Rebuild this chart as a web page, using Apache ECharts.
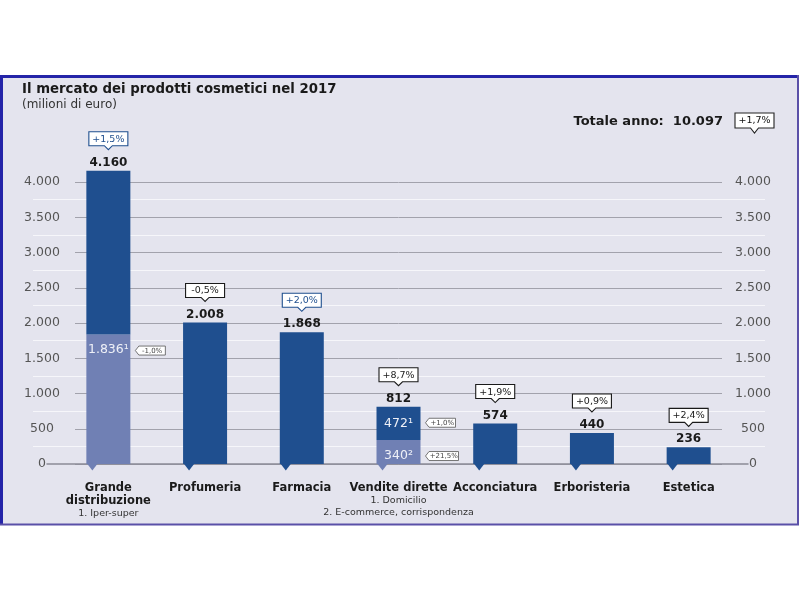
<!DOCTYPE html>
<html><head><meta charset="utf-8">
<script src="https://cdn.jsdelivr.net/npm/echarts@6/dist/echarts.min.js"></script>
<style>html,body{margin:0;padding:0;background:#fff}#c{width:800px;height:600px}</style>
</head><body><div id="c"></div>
<script>
// ---- data ----
const categories = ['Grande\ndistribuzione','Profumeria','Farmacia','Vendite dirette','Acconciatura','Erboristeria','Estetica'];
const notes = ['1. Iper-super','','','1. Domicilio\n2. E-commerce, corrispondenza','','',''];
const totals = [4160, 2008, 1868, 812, 574, 440, 236];
const lowerPart = [1836, 0, 0, 340, 0, 0, 0];
const upperPart = [2324, 2008, 1868, 472, 574, 440, 236];
const changes = ['+1,5%','-0,5%','+2,0%','+8,7%','+1,9%','+0,9%','+2,4%'];
const changeBlue = [true, false, true, false, false, false, false];
const lowerLabels = ['1.836\u00b9','','','340\u00b2','','',''];
const upperLabels = ['','','','472\u00b9','','',''];
const lowerChanges = ['-1,0%','','','+21,5%','','',''];
const upperChanges = ['','','','+1,0%','','',''];
const totalYear = '10.097';
const totalChange = '+1,7%';
const yMin = 0, yMax = 4000, yStep = 500;

const DARK = '#1f4f8f', LIGHT = '#7080b4', FONT = 'DejaVu Sans';
const fmt = n => String(n).replace(/\B(?=(\d{3})+(?!\d))/g, '.');

const sideItems = [];
categories.forEach((c, i) => {
  if (lowerChanges[i]) sideItems.push({i, top: lowerPart[i], text: lowerChanges[i]});
  if (upperChanges[i]) sideItems.push({i, top: totals[i], text: upperChanges[i]});
});

const chart = echarts.init(document.getElementById('c'));
const G = {top: 182, bottom: 136};

chart.setOption({
  backgroundColor: '#ffffff',
  animation: false,
  textStyle: {fontFamily: FONT},
  grid: [
    {left: 60, right: 63, top: G.top, bottom: G.bottom},
    {left: 75, right: 78, top: G.top, bottom: G.bottom},
    {left: 33, right: 35, top: G.top, bottom: G.bottom},
    {left: 47, right: 52, top: G.top, bottom: G.bottom}
  ],
  xAxis: [
    {gridIndex: 0, type: 'category', data: categories,
     axisLine: {show: false}, axisTick: {show: false},
     axisLabel: {margin: 18, interval: 0, color: '#1a1a1a',
       formatter: (v, i) => {
         let s = v.split('\n').map(t => '{b|' + t + '}').join('\n');
         if (notes[i]) s += '\n' + notes[i].split('\n').map(t => '{s|' + t + '}').join('\n');
         return s;
       },
       rich: {
         b: {fontFamily: FONT, fontWeight: 'bold', fontSize: 11.5, lineHeight: 13, color: '#1a1a1a'},
         s: {fontFamily: FONT, fontSize: 9.5, lineHeight: 12, color: '#333'}
       }}},
    {gridIndex: 1, type: 'value', show: false},
    {gridIndex: 2, type: 'value', show: false},
    {gridIndex: 3, type: 'value', axisLine: {show: true, lineStyle: {color: '#8a8a96', width: 1.5}},
     axisTick: {show: false}, axisLabel: {show: false}, splitLine: {show: false}}
  ],
  yAxis: [
    {gridIndex: 0, type: 'value', min: yMin, max: yMax, interval: yStep, show: false},
    {gridIndex: 1, type: 'value', min: yMin, max: yMax, interval: yStep,
     axisLine: {show: false}, axisTick: {show: false},
     axisLabel: {margin: 33, align: 'center', color: '#555', fontSize: 12.5, fontFamily: FONT, formatter: v => fmt(v)},
     splitLine: {lineStyle: {color: '#a2a2ac', width: 1}}},
    {gridIndex: 1, type: 'value', position: 'right', min: yMin, max: yMax, interval: yStep,
     axisLine: {show: false}, axisTick: {show: false},
     axisLabel: {margin: 31, align: 'center', color: '#555', fontSize: 12.5, fontFamily: FONT, formatter: v => fmt(v)},
     splitLine: {show: false}},
    {gridIndex: 2, type: 'value', min: yMin, max: yMax, interval: yStep,
     axisLine: {show: false}, axisTick: {show: false}, axisLabel: {show: false},
     splitLine: {show: false},
     minorTick: {show: false, splitNumber: 2},
     minorSplitLine: {show: true, lineStyle: {color: '#f6f6fa', width: 1}}},
    {gridIndex: 3, type: 'value', min: yMin, max: yMax, show: false}
  ],
  graphic: [
    {type: 'rect', z: -100, shape: {x: 0, y: 75, width: 799, height: 450}, style: {fill: '#e4e4ee'}},
    {type: 'line', z: -99, shape: {x1: 0, y1: 76.5, x2: 799, y2: 76.5}, style: {stroke: '#2424a8', lineWidth: 3}},
    {type: 'line', z: -99, shape: {x1: 1.5, y1: 75, x2: 1.5, y2: 525}, style: {stroke: '#2424a8', lineWidth: 3}},
    {type: 'line', z: -99, shape: {x1: 798, y1: 75, x2: 798, y2: 525}, style: {stroke: '#5a50a8', lineWidth: 2}},
    {type: 'line', z: -99, shape: {x1: 0, y1: 524.5, x2: 799, y2: 524.5}, style: {stroke: '#5a50a8', lineWidth: 2}},
    {type: 'text', left: 22, top: 83, style: {text: 'Il mercato dei prodotti cosmetici nel 2017', font: 'bold 13.3px ' + FONT, fill: '#1a1a1a'}},
    {type: 'text', left: 22, top: 99, style: {text: '(milioni di euro)', font: '12px ' + FONT, fill: '#333'}},
    {type: 'text', right: 77, top: 115, style: {text: 'Totale anno:  ' + totalYear, font: 'bold 13px ' + FONT, fill: '#1a1a1a'}},
    {type: 'polygon', shape: {points: [[735,113],[774,113],[774,128],[758.5,128],[754.5,133],[750.5,128],[735,128]]},
     style: {fill: '#ffffff', stroke: '#222', lineWidth: 1.1}},
    {type: 'text', x: 754.5, y: 120.5, style: {text: totalChange, font: '9.5px ' + FONT, fill: '#111', align: 'center', verticalAlign: 'middle'}}
  ],
  series: [
    {type: 'bar', name: 'lower', stack: 's', xAxisIndex: 0, yAxisIndex: 0, barWidth: 44, clip: false,
     itemStyle: {color: LIGHT},
     data: lowerPart.map((v, i) => ({value: v,
       label: {show: !!lowerLabels[i], position: 'insideTop', distance: 9,
         formatter: lowerLabels[i] || '', color: '#eef0f7', fontSize: 12.5, fontFamily: FONT}}))},
    {type: 'bar', name: 'upper', stack: 's', xAxisIndex: 0, yAxisIndex: 0, barWidth: 44, clip: false,
     itemStyle: {color: DARK},
     data: upperPart.map((v, i) => ({value: v,
       label: {show: !!upperLabels[i], position: 'insideTop', distance: 10,
         formatter: upperLabels[i] || '', color: '#eef0f7', fontSize: 12.5, fontFamily: FONT}}))},
    {type: 'custom', name: 'badges', xAxisIndex: 0, yAxisIndex: 0, z: 5,
     data: totals.map((v, i) => [i, v]),
     renderItem: (params, api) => {
       const i = params.dataIndex;
       const p = api.coord([api.value(0), api.value(1)]);
       const x = p[0], y = p[1];
       const col = changeBlue[i] ? DARK : '#1a1a1a';
       const w = 39, tip = y - 21, bb = tip - 4, bt = bb - 14;
       const b = api.coord([i, 0]); const l = b[0] - 22;
       return {type: 'group', children: [
         {type: 'polygon', shape: {points: [[x - w/2, bt], [x + w/2, bt], [x + w/2, bb], [x + 4, bb], [x, tip], [x - 4, bb], [x - w/2, bb]]},
          style: {fill: '#ffffff', stroke: col, lineWidth: 1.1}},
         {type: 'text', x: x, y: (bt + bb) / 2 + 0.5, style: {text: changes[i], font: '9.5px ' + FONT, fill: col, align: 'center', verticalAlign: 'middle'}},
         {type: 'text', x: x, y: y - 8, style: {text: fmt(totals[i]), font: 'bold 12px ' + FONT, fill: '#1a1a1a', align: 'center', verticalAlign: 'middle'}},
         {type: 'polygon', shape: {points: [[l + 1, b[1]], [l + 11, b[1]], [l + 6, b[1] + 6.5]]},
          style: {fill: lowerPart[i] > 0 ? LIGHT : DARK}}
       ]};
     }},
    {type: 'custom', name: 'side', xAxisIndex: 0, yAxisIndex: 0, z: 5,
     data: sideItems.map(s => [s.i, s.top]),
     renderItem: (params, api) => {
       const s = sideItems[params.dataIndex];
       const p = api.coord([api.value(0), api.value(1)]);
       const x0 = p[0] + 22 + 5, yc = p[1] + 16, w = s.text.length > 5 ? 33 : 30, h = 4.5;
       return {type: 'group', children: [
         {type: 'polygon', shape: {points: [[x0, yc], [x0 + 3.5, yc - h], [x0 + w, yc - h], [x0 + w, yc + h], [x0 + 3.5, yc + h]]},
          style: {fill: '#ffffff', stroke: '#666', lineWidth: 0.9}},
         {type: 'text', x: x0 + 3.5 + (w - 3.5) / 2, y: yc + 0.5, style: {text: s.text, font: '7px ' + FONT, fill: '#444', align: 'center', verticalAlign: 'middle'}}
       ]};
     }}
  ]
});
</script></body></html>
